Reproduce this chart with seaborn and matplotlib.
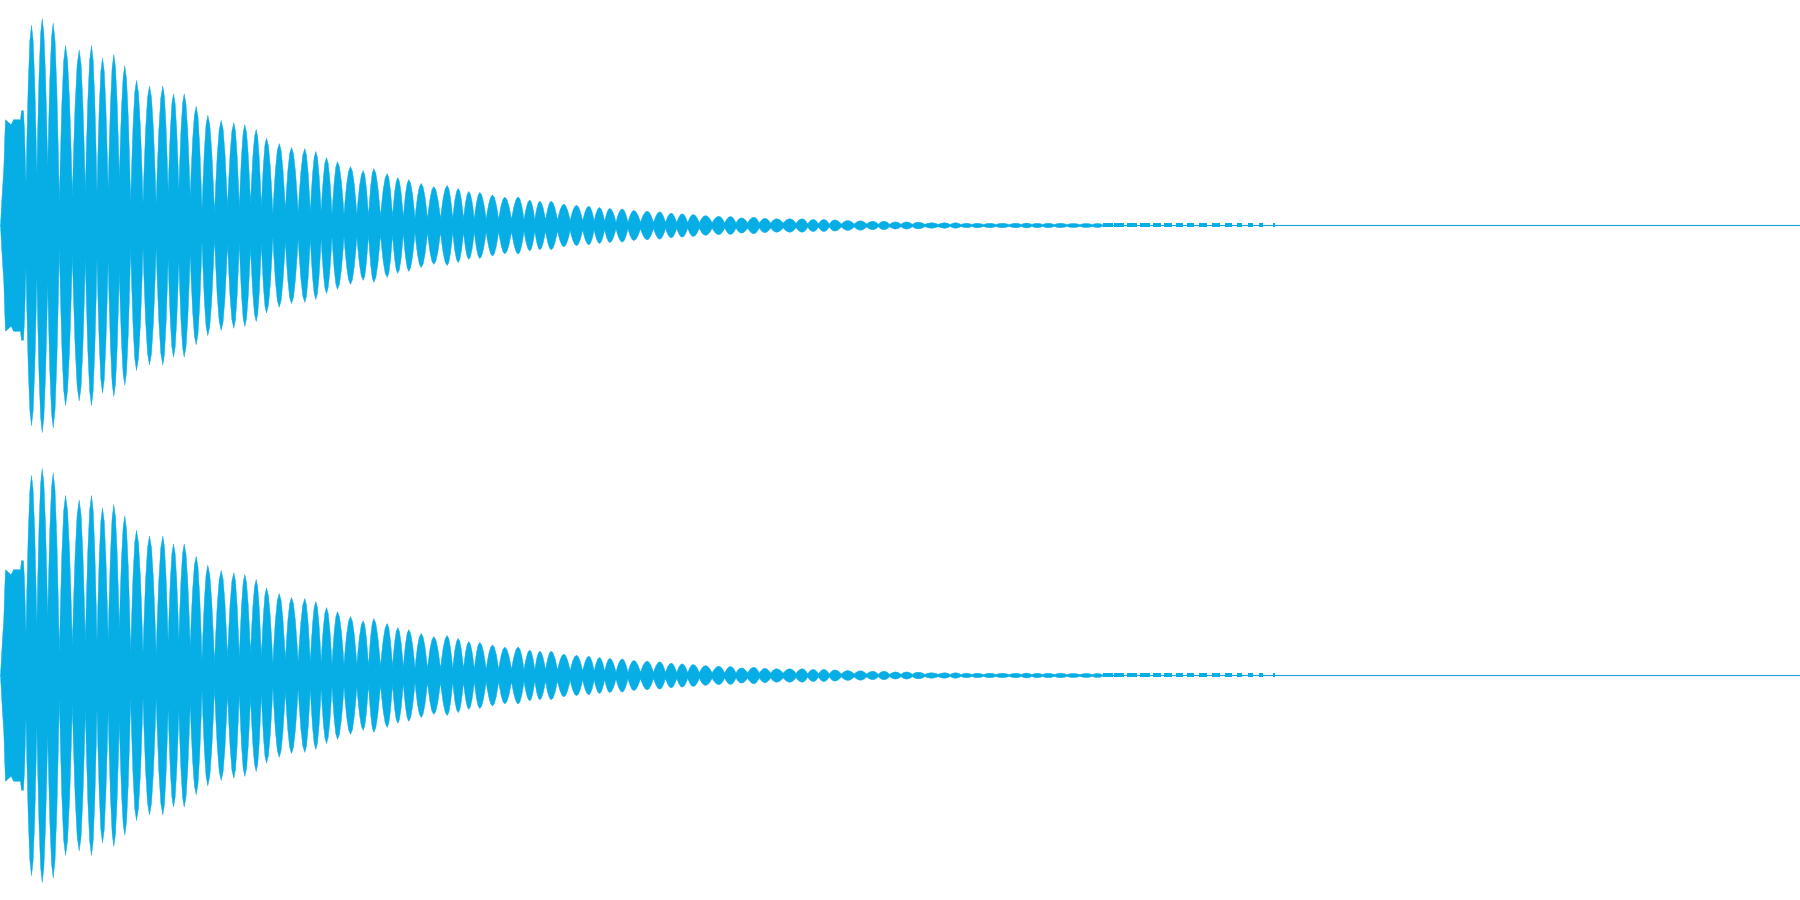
import matplotlib
matplotlib.use("Agg")
import matplotlib.pyplot as plt
import seaborn as sns
import pandas as pd

# ---- data (time in ms, amplitude in full scale) ----
channels = ["Left", "Right"]
duration_ms = 1800

# initial attack block
onset_time = [0.0, 1.7, 3.3, 4.3, 5.0, 10.0, 11.0, 13.0, 20.0, 21.0, 23.0, 24.0, 25.5]
onset_amp = [0.0, 0.14, 0.25, 0.39, 0.47, 0.45, 0.45, 0.47, 0.47, 0.51, 0.51, 0.42, 0.19]

# peaks of the beating lobes
lobe_time = [31.0, 41.7, 52.7, 65.0, 78.7, 91.0, 102.0, 113.3, 124.3, 136.0,
             149.0, 162.3, 173.0, 183.7, 195.7, 207.3, 220.7, 233.3, 244.3, 255.7,
             266.0, 278.7, 291.0, 304.3, 315.3, 326.0, 337.0, 350.0, 362.7, 373.3,
             386.7, 397.3, 408.3, 420.7, 433.3, 446.7, 457.7, 468.3, 479.3, 492.0,
             504.3, 517.7, 529.3, 539.3, 550.7, 563.3, 576.0, 588.3, 599.0, 609.3,
             621.7, 633.3, 646.7, 659.3, 670.7, 681.7, 692.7, 705.0, 718.3, 730.0,
             741.0, 753.3, 764.3, 776.0, 789.3, 801.7, 812.7, 823.3, 834.3, 847.3,
             860.0, 872.3, 883.3, 895.0, 906.0, 917.7, 931.0, 944.3, 955.0, 966.0,
             976.7, 989.3, 1001.5, 1015.7, 1026.0, 1036.7, 1047.7, 1060.0, 1072.7, 1086.0,
             1097.3]
lobe_amp = [0.89, 0.92, 0.90, 0.80, 0.78, 0.80, 0.745, 0.76, 0.71, 0.645,
            0.62, 0.62, 0.585, 0.585, 0.53, 0.49, 0.467, 0.457, 0.449, 0.427,
            0.389, 0.364, 0.347, 0.342, 0.329, 0.302, 0.284, 0.262, 0.244, 0.253,
            0.231, 0.213, 0.204, 0.187, 0.173, 0.178, 0.165, 0.151, 0.147, 0.136,
            0.126, 0.127, 0.113, 0.108, 0.108, 0.095, 0.090, 0.086, 0.080, 0.076,
            0.074, 0.067, 0.064, 0.061, 0.055, 0.052, 0.049, 0.044, 0.041, 0.040,
            0.034, 0.037, 0.032, 0.030, 0.030, 0.030, 0.027, 0.027, 0.025, 0.022,
            0.021, 0.019, 0.019, 0.016, 0.016, 0.015, 0.012, 0.012, 0.012, 0.010,
            0.010, 0.010, 0.010, 0.010, 0.011, 0.010, 0.010, 0.010, 0.009, 0.009,
            0.009]
# level of the waveform between consecutive lobes
trough_amp = [0.23, 0.26, 0.10, 0.13, 0.15, 0.15, 0.16, 0.21, 0.10, 0.10,
              0.10, 0.15, 0.16, 0.13, 0.07, 0.053, 0.08, 0.08, 0.096, 0.08,
              0.053, 0.07, 0.06, 0.06, 0.06, 0.05, 0.05, 0.05, 0.04, 0.04,
              0.04, 0.035, 0.032, 0.03, 0.03, 0.03, 0.03, 0.028, 0.028, 0.027,
              0.027, 0.026, 0.025, 0.025, 0.024, 0.022, 0.02, 0.02, 0.018, 0.015,
              0.014, 0.014, 0.013, 0.013, 0.013, 0.012, 0.012, 0.012, 0.011, 0.011,
              0.011, 0.01, 0.01, 0.01, 0.009, 0.007, 0.007, 0.006, 0.006, 0.006,
              0.006, 0.005, 0.005, 0.005, 0.005, 0.005, 0.005, 0.004, 0.004, 0.004,
              0.004, 0.004, 0.004, 0.004, 0.004, 0.004, 0.004, 0.004, 0.004, 0.004]

# faint tail pulses
tail_start = [1103.3, 1114.0, 1127.3, 1140.0, 1153.3, 1164.0, 1176.0, 1187.0,
              1199.0, 1212.3, 1225.0, 1237.0, 1248.0, 1259.0, 1273.0]
tail_end = [1112.7, 1123.7, 1136.7, 1150.0, 1160.7, 1172.0, 1182.7, 1193.7,
            1206.7, 1220.0, 1231.7, 1241.7, 1252.7, 1263.0, 1274.7]
tail_amp = [0.0075, 0.0075, 0.0075, 0.0075, 0.0075, 0.0075, 0.0075, 0.0075,
            0.0075, 0.0075, 0.0075, 0.0075, 0.0075, 0.0075, 0.009]

# ---- style ----
WAVE = "#07ADE5"
LINE = "#1AA2DB"
# rounded lobe outline: position (fraction of the way to the trough) and
# relative height above the trough at that position
LOBE_OFFSETS = [0.3, 0.6, 0.85]
LOBE_FRACTIONS = [0.9, 0.62, 0.26]

# build envelope vertices from the read values
env_t = list(onset_time)
env_a = list(onset_amp)
n_lobes = len(lobe_time)
for i, (t, a) in enumerate(zip(lobe_time, lobe_amp)):
    if i == 0:
        tl, al = onset_time[-1], onset_amp[-1]
    else:
        tl, al = (lobe_time[i - 1] + t) / 2, trough_amp[i - 1]
    if i < n_lobes - 1:
        tr, ar = (t + lobe_time[i + 1]) / 2, trough_amp[i]
    else:
        tr, ar = t + 5, 0.002
    for u, f in reversed(list(zip(LOBE_OFFSETS, LOBE_FRACTIONS))):
        env_t.append(t - u * (t - tl))
        env_a.append(al + (a - al) * f)
    env_t.append(t)
    env_a.append(a)
    for u, f in zip(LOBE_OFFSETS, LOBE_FRACTIONS):
        env_t.append(t + u * (tr - t))
        env_a.append(ar + (a - ar) * f)
    env_t.append(tr)
    env_a.append(ar)
env = pd.DataFrame({"time": env_t, "amp": env_a})
env["neg"] = -env["amp"]

sns.set_theme(style="white")
fig = plt.figure(figsize=(18, 9), dpi=100)

for k, ch in enumerate(channels):
    ax = fig.add_axes([0, 0.5 - 0.5 * k, 1, 0.5])
    base = pd.DataFrame({"time": [0, duration_ms], "level": [0.0, 0.0]})
    sns.lineplot(data=base, x="time", y="level", ax=ax, color=LINE,
                 linewidth=0.8, zorder=1)
    ax.fill_between(env["time"], env["neg"], env["amp"], color=WAVE,
                    linewidth=0.3, edgecolor=WAVE, zorder=2)
    for s, e, a in zip(tail_start, tail_end, tail_amp):
        ax.fill_between([s, e], [-a, -a], [a, a], color=WAVE, linewidth=0, zorder=2)
    ax.set_xlim(0, duration_ms)
    ax.set_ylim(-1, 1)
    ax.axis("off")

fig.savefig("out.png", dpi=100)
